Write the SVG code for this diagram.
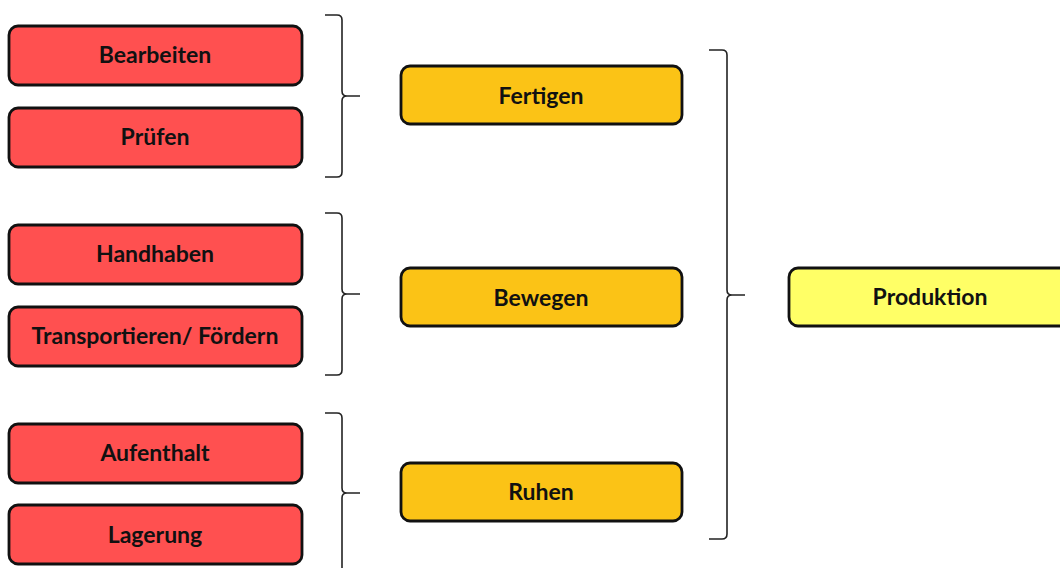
<svg xmlns="http://www.w3.org/2000/svg" width="1060" height="568" viewBox="0 0 1060 568">
<style>
.box{stroke:#111;stroke-width:2.8}
.red{fill:#FF5050}
.org{fill:#FBC316}
.yel{fill:#FFFF66}
.lbl{font-family:Lato,"Open Sans",sans-serif;font-weight:bold;font-size:23px;fill:#111;text-anchor:middle;dominant-baseline:central}
.br{fill:none;stroke:#222;stroke-width:1.6}
</style>
<rect width="1060" height="568" fill="#fff"/>
<g id="connectors">
<path class="br" d="M325,15 H337 Q342,15 342,20 V91 Q342,96 347,96 H360 M347,96 Q342,96 342,101 V172 Q342,177 337,177 H325"/>
<path class="br" d="M325,213 H337 Q342,213 342,218 V289 Q342,294 347,294 H360 M347,294 Q342,294 342,299 V370 Q342,375 337,375 H325"/>
<path class="br" d="M325,413 H337 Q342,413 342,418 V488 Q342,493 347,493 H360 M347,493 Q342,493 342,498 V580"/>
<path class="br" d="M709,50 H722 Q727,50 727,55 V290 Q727,295 732,295 H745 M732,295 Q727,295 727,300 V534 Q727,539 722,539 H709"/>
</g>
<g id="bearbeiten"><rect class="box red" x="9" y="26" width="293" height="59" rx="9"/><text class="lbl" x="155" y="54">Bearbeiten</text></g>
<g id="pruefen"><rect class="box red" x="9" y="108" width="293" height="59" rx="9"/><text class="lbl" x="155" y="136">Prüfen</text></g>
<g id="handhaben"><rect class="box red" x="9" y="225" width="293" height="59" rx="9"/><text class="lbl" x="155" y="253">Handhaben</text></g>
<g id="transportieren"><rect class="box red" x="9" y="307" width="293" height="59" rx="9"/><text class="lbl" x="155" y="335">Transportieren/ Fördern</text></g>
<g id="aufenthalt"><rect class="box red" x="9" y="424" width="293" height="59" rx="9"/><text class="lbl" x="155" y="452">Aufenthalt</text></g>
<g id="lagerung"><rect class="box red" x="9" y="505" width="293" height="59" rx="9"/><text class="lbl" x="155" y="534">Lagerung</text></g>
<g id="fertigen"><rect class="box org" x="401" y="66" width="281" height="58" rx="9"/><text class="lbl" x="541" y="95">Fertigen</text></g>
<g id="bewegen"><rect class="box org" x="401" y="268" width="281" height="58" rx="9"/><text class="lbl" x="541" y="297">Bewegen</text></g>
<g id="ruhen"><rect class="box org" x="401" y="463" width="281" height="58" rx="9"/><text class="lbl" x="541" y="491">Ruhen</text></g>
<g id="produktion"><rect class="box yel" x="789" y="268" width="290" height="58" rx="9"/><text class="lbl" x="930" y="296">Produktion</text></g>
</svg>
